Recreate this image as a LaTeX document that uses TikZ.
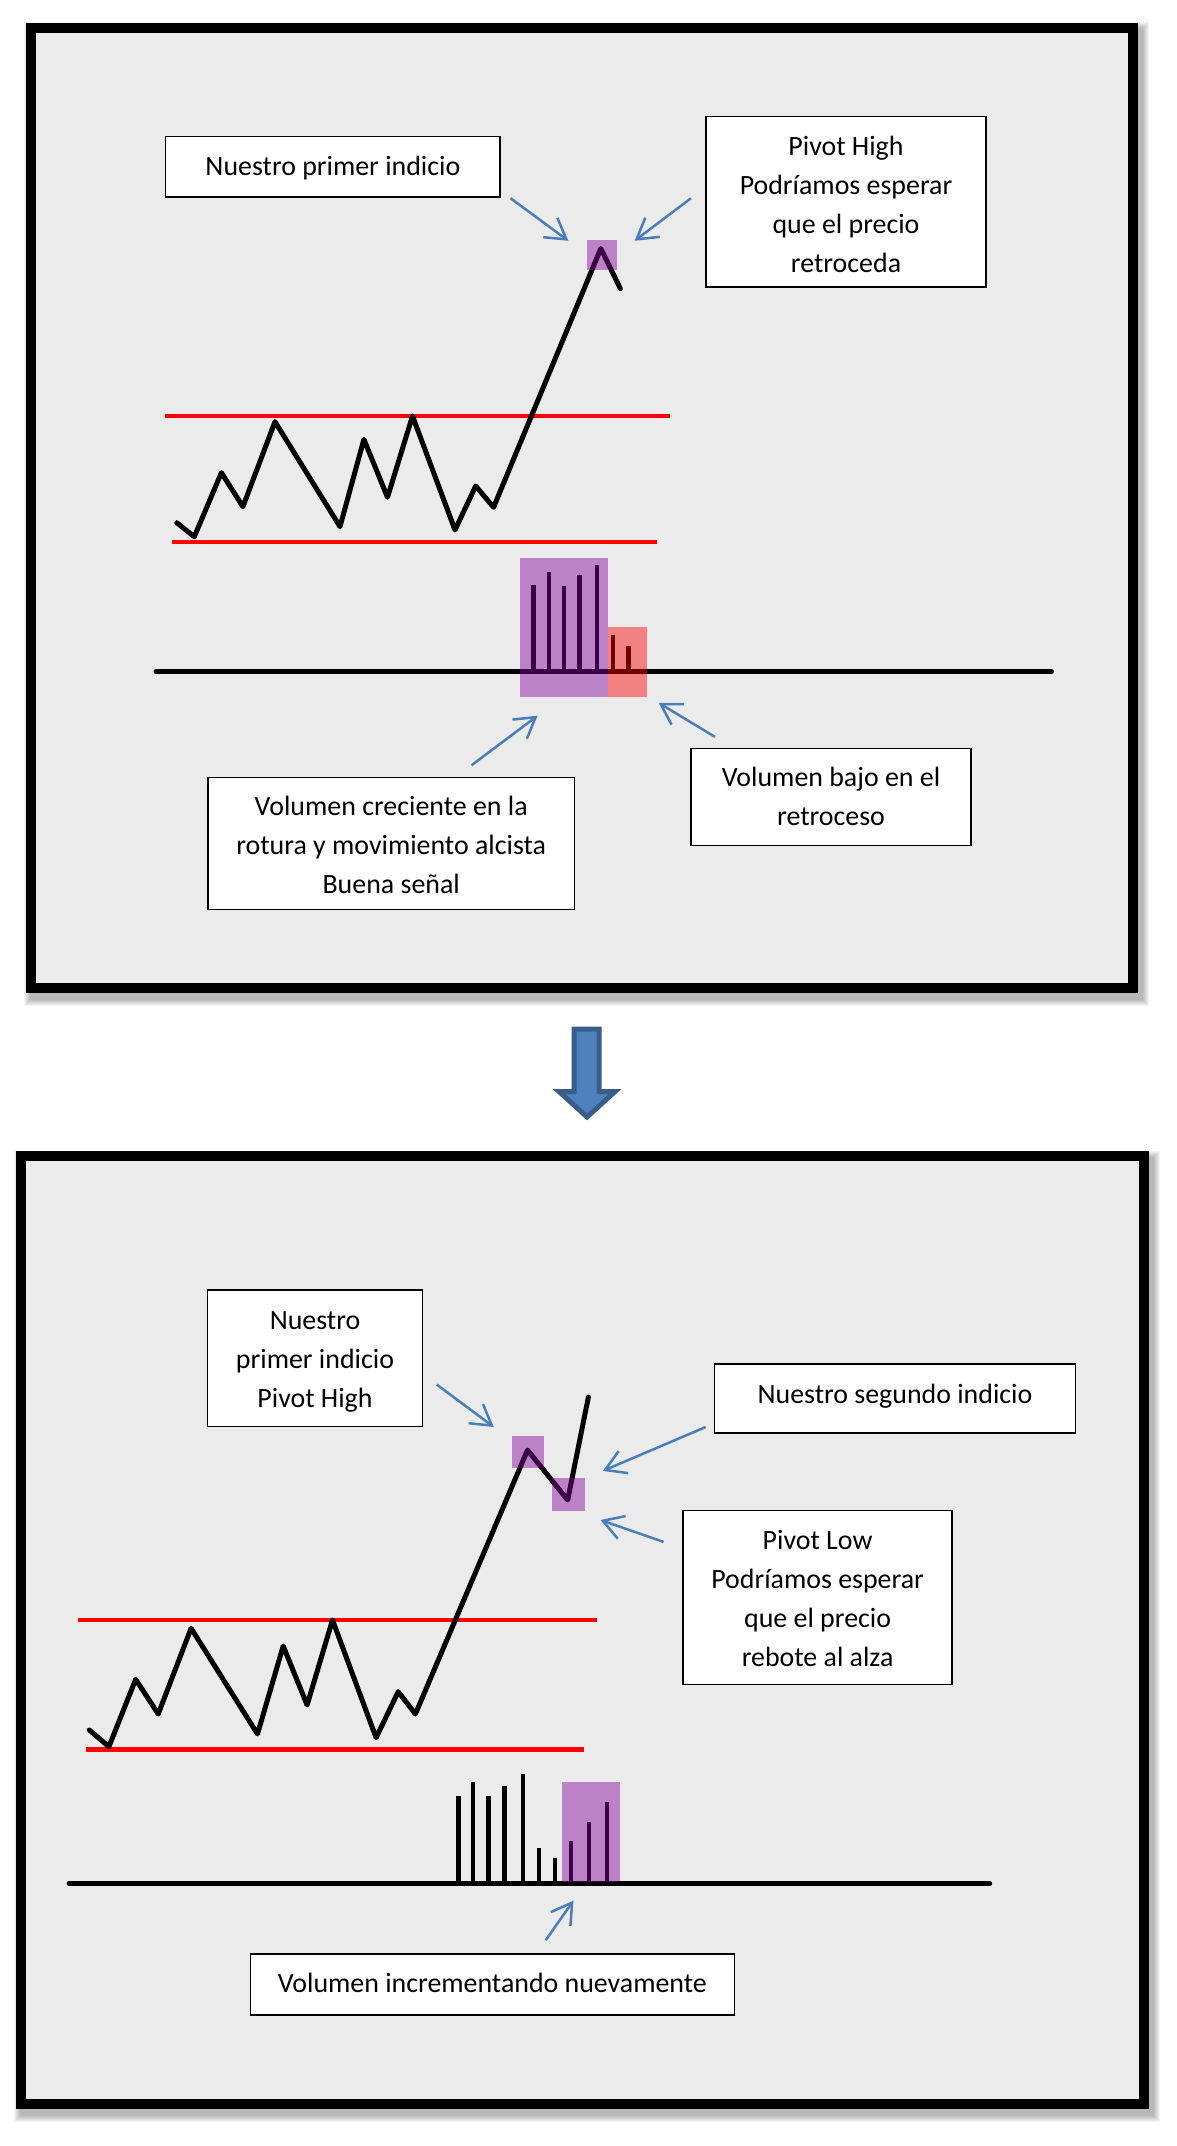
\documentclass[tikz,border=0pt]{standalone}
\usepackage{fontspec}
\setmainfont{Carlito}
\usetikzlibrary{arrows.meta}
\definecolor{panelbg}{RGB}{235,235,235}
\definecolor{callout}{RGB}{74,126,187}
\definecolor{pivotc}{RGB}{134,0,156}
\definecolor{bigfill}{RGB}{79,129,189}
\definecolor{bigedge}{RGB}{56,93,138}
\begin{document}
\begin{tikzpicture}[x=0.5pt,y=-0.5pt,
  panel/.style={draw=black, line width=5pt, fill=panelbg},
  shadowlayer/.style={draw=black, opacity=0.045},
  txtbox/.style={draw=black, line width=0.75pt, fill=white, inner sep=0pt},
  txtlabel/.style={inner sep=0pt, align=center, font=\fontsize{13.95}{19.5}\selectfont},
  callarrow/.style={draw=callout, line width=1.25pt, -{Straight Barb[length=10pt,width=12pt]}},
  price/.style={draw=black, line width=2.5pt, line join=round, line cap=round},
  rangeline/.style={draw=red, line width=2pt},
  volbar/.style={draw=black, line width=2.2pt},
  volaxis/.style={draw=black, line width=2.5pt, line cap=round},
  pivotmark/.style={fill=pivotc, fill opacity=0.45},
  lowmark/.style={fill=red, fill opacity=0.45},
  bigarrow/.style={fill=bigfill, draw=bigedge, line width=2.5pt, line join=miter}
]
\useasboundingbox (0,0) rectangle (1177,2146);
\fill[white] (0,0) rectangle (1177,2146);

% ---------- shadows ----------
\foreach \w in {5.5,6.5,...,11.5}
  \draw[shadowlayer, line width=\w pt] (35,34) rectangle (1137,994);
\foreach \w in {5.5,6.5,...,11.5}
  \draw[shadowlayer, line width=\w pt] (25,1162) rectangle (1148,2110);

% ---------- panels ----------
\draw[panel] (31,28) rectangle (1133,988);
\draw[panel] (21,1156) rectangle (1144,2104);

% ---------- big arrow between panels ----------
\draw[bigarrow] (574,1029) -- (599,1029) -- (599,1091.5) -- (615,1091.5) -- (587,1117)
  -- (559,1091.5) -- (574,1091.5) -- cycle;

% ================= TOP PANEL =================
\draw[rangeline] (165,416) -- (670,416);
\draw[rangeline] (172,541.5) -- (657,541.5);
\draw[price] (176.8,522.7) -- (194.3,536.7) -- (221.4,472.7) -- (242.9,506.7) -- (275,421.7)
  -- (340,526.7) -- (363.9,439.3) -- (387.5,497.3) -- (412.5,416) -- (455,530)
  -- (475.7,486) -- (493.6,507.3) -- (600.8,248.5) -- (620.3,288.5);
\foreach \x/\t in {533.3/585,548.7/571.7,564/585.7,579.3/575,596.7/565,612.7/635,628.3/646}
  \draw[volbar] (\x,671.7) -- (\x,\t);
\draw[volaxis] (156,671.7) -- (1051.5,671.7);
\fill[pivotmark] (587,240) rectangle (617,270);
\fill[pivotmark] (520,558.3) rectangle (607.7,697.3);
\fill[lowmark] (607.7,627.3) rectangle (647.3,697.3);

\node[txtbox, minimum width=167.2pt, minimum height=30.3pt] (t1) at (332.9,166.7) {};
\node[txtlabel, yshift=-0.7pt] (t1l) at (t1.center) {Nuestro primer indicio};
\node[txtbox, minimum width=140.2pt, minimum height=85.4pt] (t2) at (846,201.8) {};
\node[txtlabel, yshift=-1.4pt] (t2l) at (t2.center)
  {Pivot High\\Podríamos esperar\\que el precio\\retroceda};
\node[txtbox, minimum width=183.4pt, minimum height=66pt] (t3) at (391.2,843.5) {};
\node[txtlabel, yshift=-0.7pt] (t3l) at (t3.center)
  {Volumen creciente en la\\rotura y movimiento alcista\\Buena señal};
\node[txtbox, minimum width=140.1pt, minimum height=48.4pt] (t4) at (831,796.9) {};
\node[txtlabel] (t4l) at (t4.center) {Volumen bajo en el\\retroceso};

\coordinate (a1s) at (510.6,198.3); \coordinate (a1e) at (568.4,240.8);
\coordinate (a2s) at (690.9,198.3); \coordinate (a2e) at (634.6,240.8);
\coordinate (a3s) at (471.5,765.3); \coordinate (a3e) at (537.6,715.7);
\coordinate (a4s) at (715,736.9);   \coordinate (a4e) at (658.6,702.8);
\draw[callarrow] (a1s) -- (a1e);
\draw[callarrow] (a2s) -- (a2e);
\draw[callarrow] (a3s) -- (a3e);
\draw[callarrow] (a4s) -- (a4e);

% ================= BOTTOM PANEL =================
\draw[rangeline, line width=2.3pt] (78,1620) -- (597,1620);
\draw[rangeline, line width=2.3pt] (86,1749.3) -- (584,1749.3);
\draw[price] (89.3,1730) -- (108.9,1746.7) -- (135.7,1679.3) -- (158.2,1714) -- (191.1,1628.3)
  -- (257.5,1734) -- (283.2,1646) -- (307.1,1705) -- (332.5,1620) -- (376.1,1737.7)
  -- (398.2,1691.7) -- (415.4,1714) -- (527.5,1450) -- (567.7,1500) -- (588.4,1397);
\foreach \x/\t in {458.3/1795.7,472.7/1781.7,488.3/1795.7,504.3/1785.7,522.7/1774.3,
  539/1847.7,555/1857.7,571/1840.7,589/1822,606.7/1801.7}
  \draw[volbar] (\x,1883.5) -- (\x,\t);
\draw[volaxis] (69,1883.5) -- (989.7,1883.5);
\fill[pivotmark] (511.5,1436) rectangle (544.3,1468.2);
\fill[pivotmark] (551.7,1478.3) rectangle (585,1511);
\fill[pivotmark] (561.7,1781.7) rectangle (620,1882);

\node[txtbox, minimum width=107.5pt, minimum height=68.1pt] (t5) at (315,1358.2) {};
\node[txtlabel, yshift=-2pt] (t5l) at (t5.center) {Nuestro\\primer indicio\\Pivot High};
\node[txtbox, minimum width=180.3pt, minimum height=34.4pt] (t6) at (895,1398.4) {};
\node[txtlabel, yshift=1.2pt] (t6l) at (t6.center) {Nuestro segundo indicio};
\node[txtbox, minimum width=134.5pt, minimum height=87.2pt] (t7) at (817.6,1597.5) {};
\node[txtlabel, yshift=-0.7pt] (t7l) at (t7.center)
  {Pivot Low\\Podríamos esperar\\que el precio\\rebote al alza};
\node[txtbox, minimum width=242pt, minimum height=30.4pt] (t8) at (492.3,1984.4) {};
\node[txtlabel, yshift=0.6pt] (t8l) at (t8.center) {Volumen incrementando nuevamente};

\coordinate (a5s) at (436.7,1384.5); \coordinate (a5e) at (493.8,1427);
\coordinate (a6s) at (705.7,1427);   \coordinate (a6e) at (602.8,1470.9);
\coordinate (a7s) at (663.6,1541.9); \coordinate (a7e) at (600.5,1520);
\coordinate (a8s) at (545.7,1940.2); \coordinate (a8e) at (573.5,1900.6);
\draw[callarrow] (a5s) -- (a5e);
\draw[callarrow] (a6s) -- (a6e);
\draw[callarrow] (a7s) -- (a7e);
\draw[callarrow] (a8s) -- (a8e);
\end{tikzpicture}
\end{document}
